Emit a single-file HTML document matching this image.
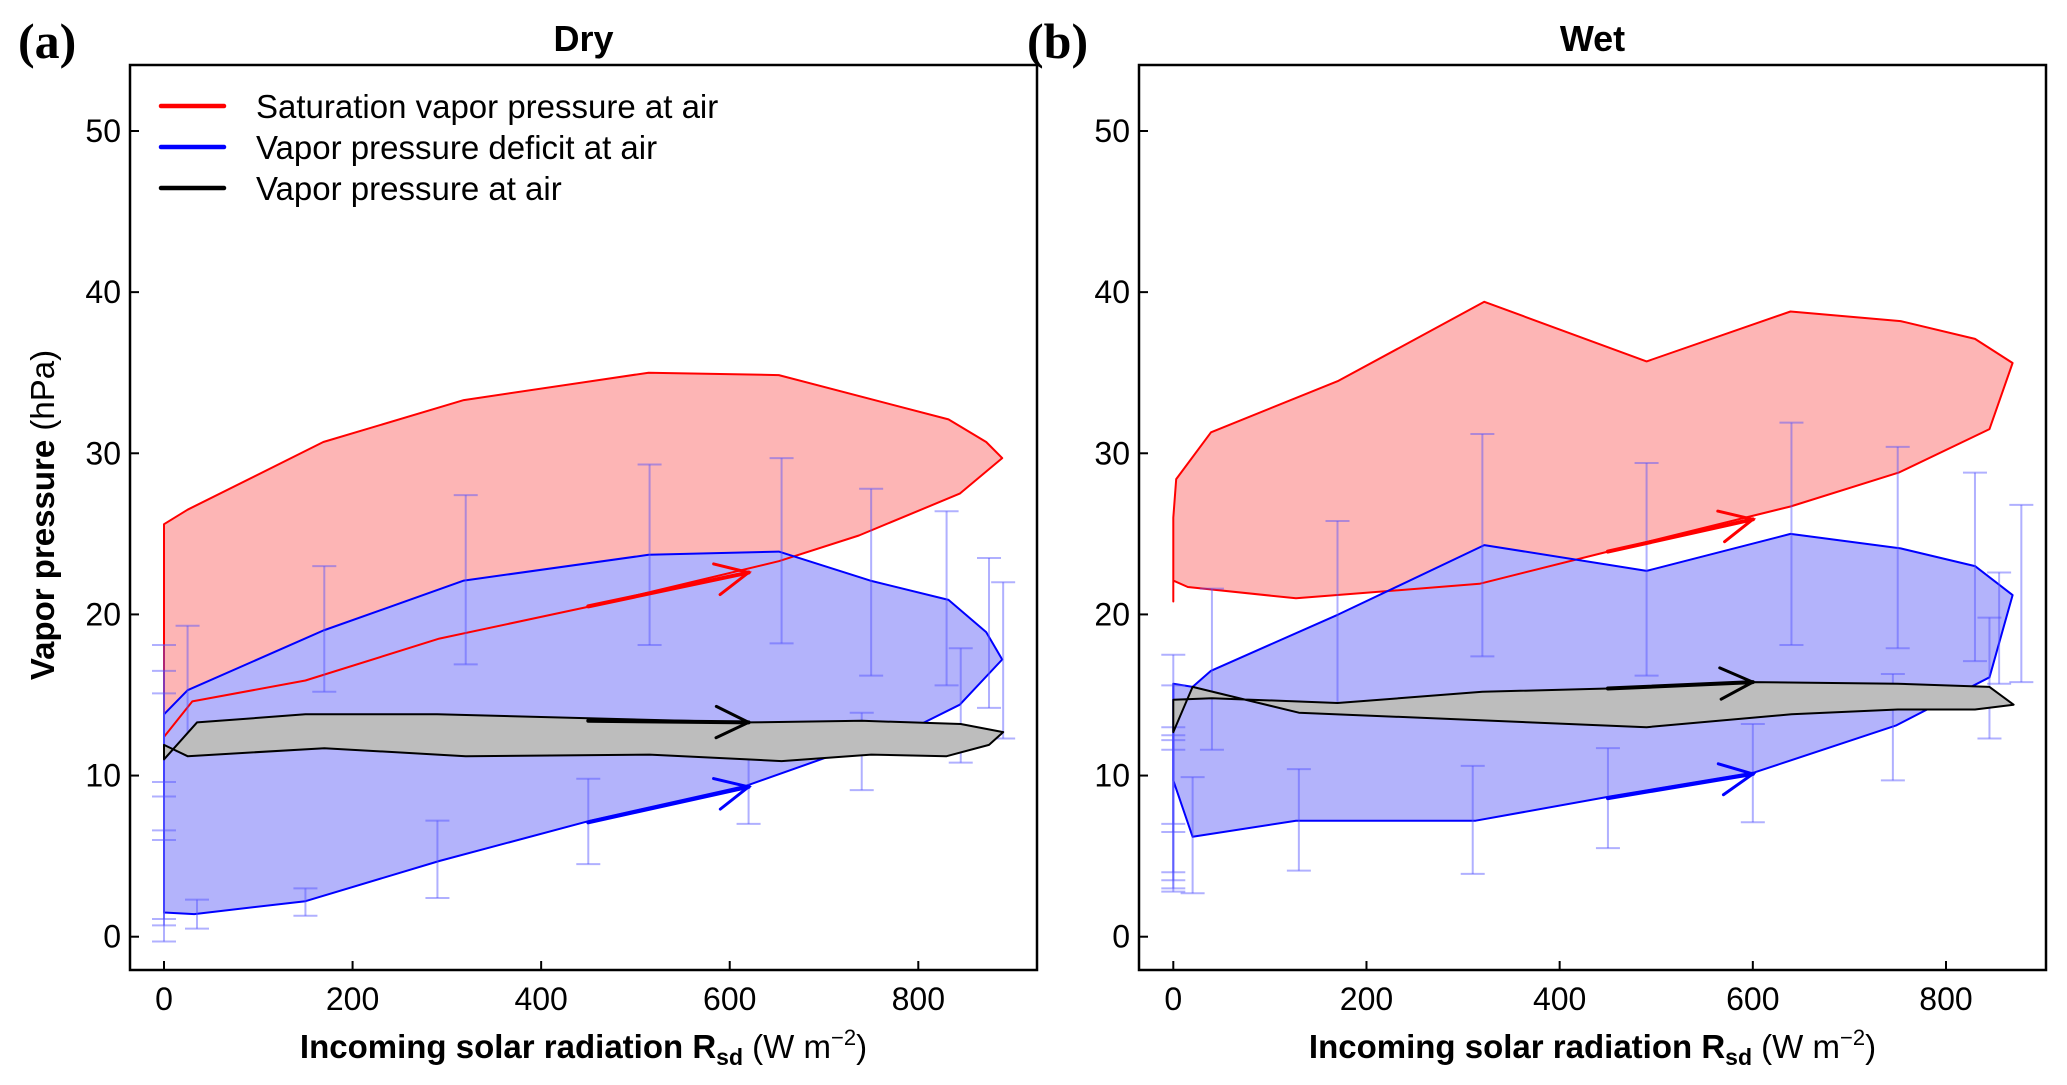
<!DOCTYPE html>
<html><head><meta charset="utf-8"><style>
html,body{margin:0;padding:0;background:#fff;}
svg{display:block;font-family:"Liberation Sans",Arial,sans-serif;}
</style></head><body>
<svg id="chart" width="2067" height="1085" viewBox="0 0 2067 1085" xmlns="http://www.w3.org/2000/svg"></svg>
<script>
// ---- Dry panel data ----
const dryRedX = [0,0,25,169,318,514,652,832,872,889,844,737,652,452,292,150,30,0];
const dryRedY = [12.4,25.6,26.5,30.7,33.3,35.0,34.85,32.1,30.7,29.7,27.5,24.9,23.3,20.5,18.5,15.9,14.6,12.4];
const dryBlueX = [0,25,169,318,514,652,749,832,872,889,844,803,617,452,292,150,32,0];
const dryBlueY = [13.8,15.3,19.0,22.1,23.7,23.9,22.1,20.9,18.9,17.2,14.4,13.2,9.36,7.2,4.7,2.2,1.4,1.5];
const dryBlackX = [0,35,150,290,620,740,845,890,875,830,750,655,515,320,170,25,0];
const dryBlackY = [11.0,13.3,13.8,13.8,13.3,13.4,13.2,12.7,11.9,11.2,11.3,10.9,11.3,11.2,11.7,11.2,11.9];
const dryErrX = [0,0,0,0,0,25,35,150,170,290,320,450,515,620,655,740,750,830,845,875,890];
const dryErrLo = [6.0,6.6,-0.3,0.7,1.1,11.5,0.5,1.3,15.2,2.4,16.9,4.5,18.1,7.0,18.2,9.1,16.2,15.6,10.8,14.2,12.3];
const dryErrHi = [16.5,18.1,9.6,8.7,15.1,19.3,2.3,3.0,23.0,7.2,27.4,9.8,29.3,11.7,29.7,13.9,27.8,26.4,17.9,23.5,22.0];
const dryArrows = [[450,20.5,620,22.6,'#ff0000'],[450,13.4,620,13.3,'#000000'],[450,7.1,620,9.3,'#0000ff']];
// ---- Wet panel data ----
const wetRedX = [0,0,3,39,171,322,490,639,753,830,869,845,751,639,450,317,127,15,0];
const wetRedY = [20.8,26.0,28.4,31.3,34.5,39.4,35.7,38.8,38.2,37.1,35.6,31.5,28.8,26.7,23.9,21.9,21.0,21.7,22.1];
const wetBlueX = [0,20,39,171,322,490,639,753,830,869,845,748,602,452,313,127,20,0];
const wetBlueY = [15.7,15.5,16.5,20.0,24.3,22.7,25.0,24.1,23.0,21.2,16.1,13.1,10.2,8.7,7.2,7.2,6.2,9.7];
const wetBlackX = [0,40,170,320,450,600,750,845,870,830,750,640,490,130,20,0];
const wetBlackY = [14.7,14.8,14.5,15.2,15.4,15.8,15.7,15.5,14.4,14.1,14.1,13.8,13.0,13.9,15.5,12.7];
const wetErrX = [0,0,0,0,0,0,20,40,130,170,310,320,450,490,600,640,745,750,830,845,855,878];
const wetErrLo = [3.0,4.0,2.8,3.5,6.5,7.0,2.7,11.6,4.1,14.2,3.9,17.4,5.5,16.2,7.1,18.1,9.7,17.9,17.1,12.3,15.7,15.8];
const wetErrHi = [15.6,13.0,12.5,12.2,11.6,17.5,9.9,21.6,10.4,25.8,10.6,31.2,11.7,29.4,13.2,31.9,16.3,30.4,28.8,19.8,22.6,26.8];
const wetArrows = [[450,23.9,600,25.9,'#ff0000'],[450,15.4,600,15.8,'#000000'],[450,8.6,600,10.1,'#0000ff']];
const xTicks = [0,200,400,600,800];
const yTicks = [0,10,20,30,40,50];
const legendLabels = ['Saturation vapor pressure at air','Vapor pressure deficit at air','Vapor pressure at air'];
const legendColors = ['#ff0000','#0000ff','#000000'];

const NS='http://www.w3.org/2000/svg';
const svg=document.getElementById('chart');
function mk(tag,attrs,parent){const e=document.createElementNS(NS,tag);for(const k in attrs)e.setAttribute(k,attrs[k]);(parent||svg).appendChild(e);return e;}
const Y0=936.7, YS=(936.7-131)/50;
function yScale(v){return Y0-v*YS;}

function drawPanel(p){
  const g=mk('g',{});
  
  
  const xs=v=>p.x0+v*p.xk;
  const pts=(X,Yv)=>X.map((x,i)=>xs(x).toFixed(1)+','+yScale(Yv[i]).toFixed(1)).join(' ');
  const poly=(X,Yv,fill,stroke,name)=>{
    const e=mk('polygon',{points:pts(X,Yv),fill:fill,stroke:stroke,'stroke-width':2,'stroke-linejoin':'round'},g);
    
    
  };
  poly(p.rx,p.ry,'#fdb5b5','none','saturation-vapor-pressure-band');
  poly(p.bx,p.by,'#b3b3fb','none','vapor-pressure-deficit-band');
  poly(p.rx,p.ry,'none','#ff0000','saturation-vapor-pressure-outline');
  poly(p.bx,p.by,'none','#0000ff','vapor-pressure-deficit-outline');
  p.ex.forEach((x,i)=>{
    const eb=mk('g',{stroke:'rgba(80,80,255,0.45)','stroke-width':2},g);
    
    
    const X=xs(x),a=yScale(p.elo[i]),b=yScale(p.ehi[i]);
    mk('line',{x1:X,x2:X,y1:a,y2:b},eb);
    mk('line',{x1:X-12,x2:X+12,y1:a,y2:a},eb);
    mk('line',{x1:X-12,x2:X+12,y1:b,y2:b},eb);
  });
  poly(p.kx,p.ky,'#bdbdbd','#000000','vapor-pressure-band');
  p.arrows.forEach(a=>{
    const ag=mk('g',{stroke:a[4],'stroke-width':4,fill:'none','stroke-linecap':'round'},g);
    
    
    const x1=xs(a[0]),y1=yScale(a[1]),x2=xs(a[2]),y2=yScale(a[3]);
    mk('line',{x1:x1,y1:y1,x2:x2,y2:y2},ag);
    const ang=Math.atan2(y2-y1,x2-x1),L=36,sp=0.45;
    const p1=[x2-L*Math.cos(ang-sp),y2-L*Math.sin(ang-sp)],p2=[x2-L*Math.cos(ang+sp),y2-L*Math.sin(ang+sp)];
    mk('polyline',{points:p1.join(',')+' '+x2+','+y2+' '+p2.join(','),'stroke-width':3},ag);
  });
  const fr=mk('rect',{x:p.bl,y:65,width:p.br-p.bl,height:905,fill:'none',stroke:'#000','stroke-width':2.5},g);
  
  
  xTicks.forEach(t=>{
    const X=xs(t);
    mk('line',{x1:X,x2:X,y1:970,y2:961,stroke:'#000','stroke-width':2},g);
    const tx=mk('text',{x:X,y:1010,'font-size':32,'text-anchor':'middle',fill:'#000'},g);
    tx.textContent=t;
    
    
  });
  yTicks.forEach(t=>{
    const Yp=yScale(t);
    mk('line',{x1:p.bl,x2:p.bl+9,y1:Yp,y2:Yp,stroke:'#000','stroke-width':2},g);
    const tx=mk('text',{x:p.bl-9,y:Yp+11,'font-size':32,'text-anchor':'end',fill:'#000'},g);
    tx.textContent=t;
    
    
  });
  const cx=(p.bl+p.br)/2;
  const ti=mk('text',{x:cx,y:51,'font-size':36,'font-weight':'bold','text-anchor':'middle'},g);
  ti.textContent=p.title;
  
  
  const pl=mk('text',{x:p.bl-112,y:58,'font-size':50,'font-weight':'bold','font-family':'Liberation Serif, serif'},g);
  pl.textContent=p.label;
  
  
  const xl=mk('text',{x:cx,y:1058,'font-size':33,'text-anchor':'middle'},g);
  xl.innerHTML='<tspan font-weight="bold">Incoming solar radiation R</tspan><tspan font-weight="bold" font-size="23" dy="7">sd</tspan><tspan dy="-7"> (W m</tspan><tspan font-size="22" dy="-13">−2</tspan><tspan dy="13">)</tspan>';
  
  
}

drawPanel({name:'dry-panel',title:'Dry',label:'(a)',x0:164,xk:(918.3-164)/800,bl:130,br:1037,
  rx:dryRedX,ry:dryRedY,bx:dryBlueX,by:dryBlueY,kx:dryBlackX,ky:dryBlackY,ex:dryErrX,elo:dryErrLo,ehi:dryErrHi,arrows:dryArrows});
drawPanel({name:'wet-panel',title:'Wet',label:'(b)',x0:1173.3,xk:(1946-1173.3)/800,bl:1139,br:2046,
  rx:wetRedX,ry:wetRedY,bx:wetBlueX,by:wetBlueY,kx:wetBlackX,ky:wetBlackY,ex:wetErrX,elo:wetErrLo,ehi:wetErrHi,arrows:wetArrows});

const yt=mk('text',{x:0,y:0,'font-size':33,'text-anchor':'middle',transform:'translate(54,515) rotate(-90)'});
yt.innerHTML='<tspan font-weight="bold">Vapor pressure</tspan> (hPa)';



const lg=mk('g',{});


legendLabels.forEach((lab,i)=>{
  const y=106+i*41;
  const e=mk('g',{},lg);
  
  
  mk('line',{x1:161,x2:224,y1:y,y2:y,stroke:legendColors[i],'stroke-width':4.5,'stroke-linecap':'round'},e);
  const t=mk('text',{x:256,y:y+12,'font-size':33},e);
  t.textContent=lab;
});
</script>
</body></html>
